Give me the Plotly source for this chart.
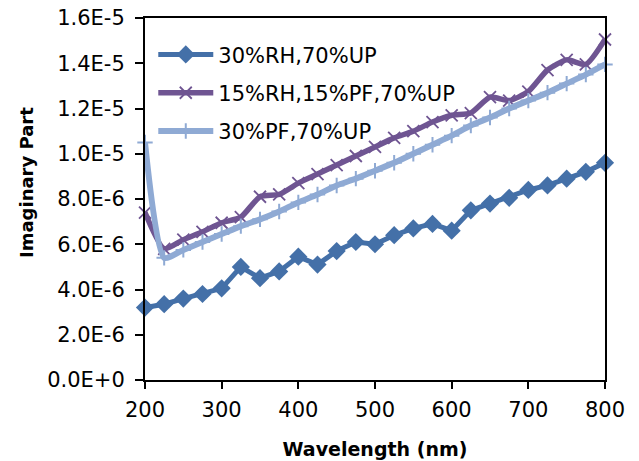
import plotly.graph_objects as go

wavelength = [200, 225, 250, 275, 300, 325, 350, 375, 400, 425, 450, 475, 500,
              525, 550, 575, 600, 625, 650, 675, 700, 725, 750, 775, 800]

SCALE = 1e-6
rh_up = [3.2, 3.35, 3.6, 3.8, 4.05, 5.0, 4.5, 4.8, 5.45, 5.1, 5.7, 6.1, 6.0,
         6.4, 6.7, 6.9, 6.6, 7.5, 7.8, 8.05, 8.4, 8.6, 8.9, 9.2, 9.6]
rh_pf_up = [7.4, 5.8, 6.2, 6.55, 6.95, 7.2, 8.1, 8.2, 8.7, 9.1, 9.5, 9.9, 10.3,
            10.7, 11.0, 11.4, 11.7, 11.8, 12.5, 12.35, 12.75, 13.7, 14.15, 13.95, 15.05]
pf_up = [10.5, 5.4, 5.75, 6.1, 6.45, 6.8, 7.1, 7.45, 7.85, 8.2, 8.6, 8.9, 9.25,
         9.6, 10.0, 10.4, 10.8, 11.25, 11.6, 12.0, 12.35, 12.7, 13.1, 13.5, 13.95]

names = ["30%RH,70%UP", "15%RH,15%PF,70%UP", "30%PF,70%UP"]

y_tick_vals = [0, 2e-6, 4e-6, 6e-6, 8e-6, 1e-5, 1.2e-5, 1.4e-5, 1.6e-5]
y_tick_text = ["0.0E+0", "2.0E-6", "4.0E-6", "6.0E-6", "8.0E-6",
               "1.0E-5", "1.2E-5", "1.4E-5", "1.6E-5"]
x_tick_vals = [200, 300, 400, 500, 600, 700, 800]

BLUE = "#4470A8"
PURPLE = "#6F5592"
LIGHT = "#8FAAD4"

fig = go.Figure()

fig.add_trace(go.Scatter(
    x=wavelength, y=[v * SCALE for v in rh_up], name=names[0],
    mode="lines+markers", legendgroup="a",
    line=dict(color=BLUE, width=5),
    marker=dict(symbol="diamond", size=14, color=BLUE),
    cliponaxis=False,
))
fig.add_trace(go.Scatter(
    x=wavelength, y=[v * SCALE for v in rh_pf_up], name=names[1],
    mode="lines+markers", legendgroup="b",
    line=dict(color=PURPLE, width=5.5, shape="spline", smoothing=0.6),
    marker=dict(symbol="x-thin", size=12, line=dict(color=PURPLE, width=1.8)),
    cliponaxis=False,
))
fig.add_trace(go.Scatter(
    x=wavelength, y=[v * SCALE for v in pf_up], name=names[2],
    mode="lines+markers", legendgroup="c",
    line=dict(color=LIGHT, width=6, shape="spline", smoothing=0.6),
    marker=dict(symbol="cross-thin", size=11, line=dict(color=LIGHT, width=2)),
    cliponaxis=False,
))

axis_font = dict(family="DejaVu Sans", size=21, color="#000000")

fig.update_layout(
    width=639, height=461,
    margin=dict(l=145, r=34, t=18, b=81, autoexpand=False),
    paper_bgcolor="white", plot_bgcolor="white",
    showlegend=True,
    legend=dict(
        x=0.018, y=0.955, xanchor="left", yanchor="top",
        bgcolor="rgba(0,0,0,0)",
        font=dict(family="DejaVu Sans", size=21, color="#000000"),
        itemwidth=55, tracegroupgap=8, traceorder="grouped",
    ),
    xaxis=dict(
        range=[200, 800], tickvals=x_tick_vals, automargin=False,
        showgrid=False, zeroline=False,
        showline=True, linecolor="black", linewidth=2, mirror=True,
        ticks="outside", ticklen=7, tickwidth=2, tickcolor="black",
        tickfont=axis_font, ticklabelstandoff=3,
        title=dict(text="<b>Wavelength (nm)</b>",
                   font=dict(family="DejaVu Sans", size=19, color="#000000"),
                   standoff=21),
    ),
    yaxis=dict(
        range=[0, 1.6e-5], tickvals=y_tick_vals, ticktext=y_tick_text,
        automargin=False,
        showgrid=False, zeroline=False,
        showline=True, linecolor="black", linewidth=2, mirror=True,
        ticks="outside", ticklen=8, tickwidth=2, tickcolor="black",
        tickfont=axis_font, ticklabelstandoff=6,
    ),
    annotations=[dict(
        text="<b>Imaginary Part</b>", textangle=-90,
        xref="paper", yref="paper",
        x=(26 - 145) / 460, y=(380 - 183) / 362,
        xanchor="center", yanchor="middle", showarrow=False,
        font=dict(family="DejaVu Sans", size=18, color="#000000"),
    )],
)

fig.write_html("out.html",
               config={"displayModeBar": False},
               post_script="document.body.style.margin='0';")
